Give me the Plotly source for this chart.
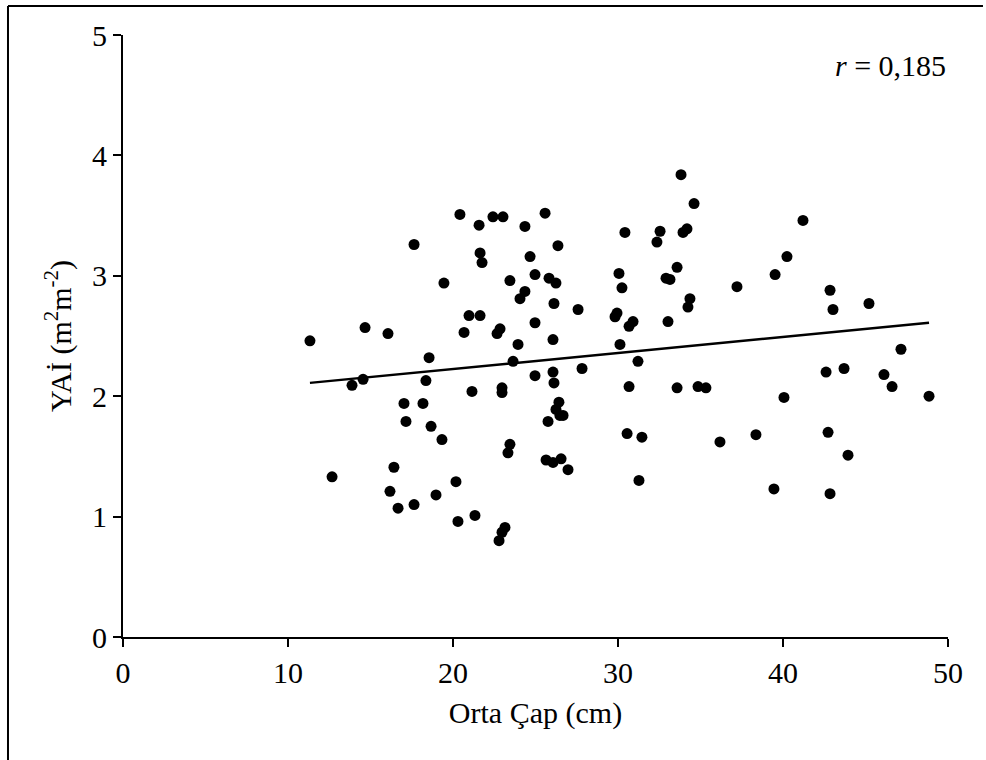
import plotly.graph_objects as go

# Orta çap (cm) ve YAİ (m2 m-2) ölçümleri
orta_cap = [
    11.33, 12.67, 13.88, 14.55, 14.67, 16.06, 16.18, 16.42, 16.67, 17.03,
    17.15, 17.64, 17.64, 18.18, 18.36, 18.55, 18.67, 18.97, 19.33, 19.45,
    20.18, 20.30, 20.42, 20.67, 20.97, 21.15, 21.33, 21.58, 21.64, 21.64,
    21.76, 22.42, 22.67, 22.85, 22.97, 22.97, 22.79, 22.97, 23.15, 23.03,
    23.33, 23.45, 23.45, 23.64, 23.94, 24.06, 24.36, 24.36, 24.67, 24.97,
    24.97, 24.97, 25.58, 25.64, 25.76, 25.82, 26.06, 26.06, 26.06, 26.12,
    26.12, 26.24, 26.36, 26.24, 26.42, 26.55, 26.48, 26.67, 26.97, 27.58,
    27.82, 29.94, 29.82, 30.06, 30.12, 30.24, 30.42, 30.55, 30.67, 30.67,
    30.91, 31.21, 31.27, 31.45, 32.36, 32.55, 32.91, 33.03, 33.15, 33.58,
    33.58, 33.82, 33.94, 34.18, 34.24, 34.36, 34.61, 34.85, 35.33, 36.18,
    37.21, 38.36, 39.45, 39.52, 40.06, 40.24, 41.21, 42.61, 42.73, 42.85,
    42.85, 43.03, 43.70, 43.94, 45.21, 46.12, 46.61, 47.15, 48.85,
]
yai = [
    2.46, 1.33, 2.09, 2.14, 2.57, 2.52, 1.21, 1.41, 1.07, 1.94,
    1.79, 3.26, 1.10, 1.94, 2.13, 2.32, 1.75, 1.18, 1.64, 2.94,
    1.29, 0.96, 3.51, 2.53, 2.67, 2.04, 1.01, 3.42, 2.67, 3.19,
    3.11, 3.49, 2.52, 2.56, 2.07, 2.03, 0.80, 0.87, 0.91, 3.49,
    1.53, 1.60, 2.96, 2.29, 2.43, 2.81, 2.87, 3.41, 3.16, 2.61,
    2.17, 3.01, 3.52, 1.47, 1.79, 2.98, 2.47, 2.20, 1.45, 2.77,
    2.11, 2.94, 3.25, 1.89, 1.95, 1.48, 1.84, 1.84, 1.39, 2.72,
    2.23, 2.69, 2.66, 3.02, 2.43, 2.90, 3.36, 1.69, 2.08, 2.58,
    2.62, 2.29, 1.30, 1.66, 3.28, 3.37, 2.98, 2.62, 2.97, 3.07,
    2.07, 3.84, 3.36, 3.39, 2.74, 2.81, 3.60, 2.08, 2.07, 1.62,
    2.91, 1.68, 1.23, 3.01, 1.99, 3.16, 3.46, 2.20, 1.70, 2.88,
    1.19, 2.72, 2.23, 1.51, 2.77, 2.18, 2.08, 2.39, 2.00,
]

# Doğrusal eğilim çizgisi
trend_intercept = 1.96
trend_slope = 0.0133
trend_x = [min(orta_cap), max(orta_cap)]
trend_y = [trend_intercept + trend_slope * v for v in trend_x]

x_ticks = [0, 10, 20, 30, 40, 50]
y_ticks = [0, 1, 2, 3, 4, 5]

FONT = "Liberation Serif, Times New Roman, serif"
FS = 30

fig = go.Figure()
fig.add_trace(go.Scatter(
    x=orta_cap, y=yai, mode="markers",
    marker=dict(color="black", size=11, line=dict(width=0)),
    showlegend=False, cliponaxis=False,
))
fig.add_trace(go.Scatter(
    x=trend_x, y=trend_y, mode="lines",
    line=dict(color="black", width=2.5),
    showlegend=False,
))

axis_common = dict(
    showline=True, linecolor="black", linewidth=2,
    ticks="outside", ticklen=8, tickwidth=2, tickcolor="black",
    showgrid=False, zeroline=False, mirror=False,
    tickfont=dict(family=FONT, size=FS, color="black"),
)

fig.update_xaxes(
    range=[0, 50], tickvals=x_ticks, ticktext=[str(v) for v in x_ticks],
    title=dict(text="Orta Çap (cm)", font=dict(family=FONT, size=FS, color="black"), standoff=14),
    **axis_common,
)
fig.update_yaxes(
    range=[0, 5], tickvals=y_ticks, ticktext=[str(v) for v in y_ticks],
    title=dict(text="YAİ (m<sup>2</sup>m<sup>-2</sup>)", font=dict(family=FONT, size=FS, color="black"), standoff=12),
    **axis_common,
)

fig.add_annotation(
    text="<i>r</i> = 0,185", xref="paper", yref="paper",
    x=1.0, y=0.95, xanchor="right", yanchor="middle", showarrow=False,
    font=dict(family=FONT, size=FS, color="black"),
)

# Çerçeve (sol ve üst kenar)
fig.add_shape(type="line", xref="paper", yref="paper",
              x0=-0.1394, x1=-0.1394, y0=1.0482, y1=-0.25,
              line=dict(color="black", width=2))
fig.add_shape(type="line", xref="paper", yref="paper",
              x0=-0.1394, x1=1.0424, y0=1.0482, y1=1.0482,
              line=dict(color="black", width=2))

fig.update_layout(
    width=986, height=760,
    margin=dict(l=123, r=38, t=35, b=123),
    paper_bgcolor="white", plot_bgcolor="white",
    font=dict(family=FONT, size=FS, color="black"),
)

fig.write_html("out.html")
